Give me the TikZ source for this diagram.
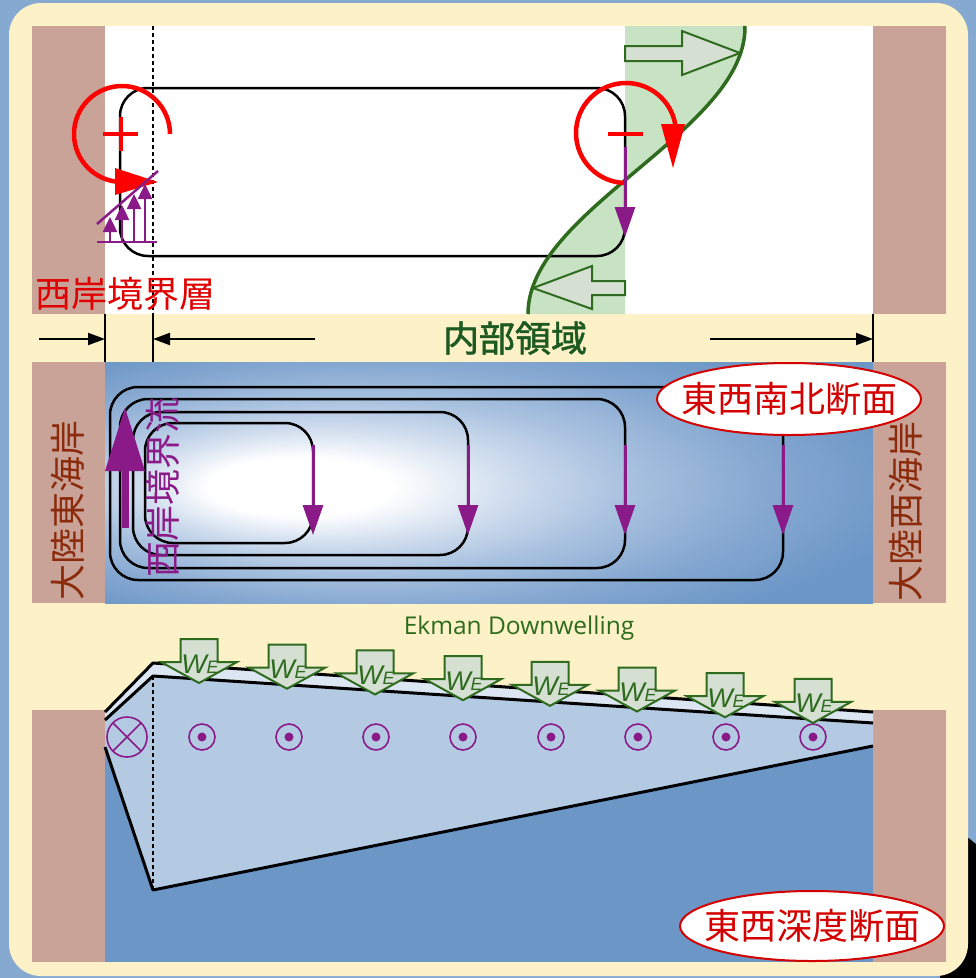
\documentclass[tikz,border=0pt]{standalone}
\usepackage{fontspec}
\usetikzlibrary{arrows.meta}
\newfontfamily\cjk{Noto Sans CJK JP}
\newfontfamily\cjkbold[FakeBold=1.5]{Noto Sans CJK JP}
\newfontfamily\latinsans{Open Sans}
\newfontfamily\wefont{Liberation Sans}

\definecolor{frameblue}{HTML}{86A9D1}
\definecolor{cream}{HTML}{FCF1C7}
\definecolor{coast}{HTML}{C9A398}
\definecolor{vred}{HTML}{FF0000}
\definecolor{labelred}{HTML}{E00000}
\definecolor{ovalred}{HTML}{D40000}
\definecolor{flowpurple}{HTML}{8B1A89}
\definecolor{shearfill}{HTML}{C8E3C3}
\definecolor{arrowfill}{HTML}{D5E0D3}
\definecolor{darkgreen}{HTML}{2E6B1E}
\definecolor{regiongreen}{HTML}{1D5A22}
\definecolor{landtext}{HTML}{8B2B0B}
\definecolor{deepblue}{HTML}{6B96C6}
\definecolor{layerblue}{HTML}{B3CAE2}
\definecolor{ekmanblue}{HTML}{DCE6F2}
\definecolor{basinlight}{HTML}{D0DDEE}
\definecolor{basinmid}{HTML}{A8C1DF}
\definecolor{basindark}{HTML}{86A8D1}

% off-centre radial gradient for the basin plan view
\pgfdeclareradialshading{basin}{\pgfpoint{-14bp}{-1bp}}{%
  color(0bp)=(white); color(6bp)=(white); color(12bp)=(basinlight);
  color(18bp)=(basinmid); color(25bp)=(basindark); color(33bp)=(deepblue);
  color(50bp)=(deepblue)}

\begin{document}
\begin{tikzpicture}[x=1pt,y=-1pt,line join=round,
  dimarrow/.style={line width=2pt,-{Triangle[length=17pt,width=12pt]}},
  loop/.style={draw=black,line width=2.5pt,rounded corners=28pt},
  southflow/.style={draw=flowpurple,line width=3pt,-{Triangle[length=30pt,width=20pt]}},
  profarrow/.style={flowpurple,line width=2.5pt,-{Triangle[length=15pt,width=14pt]}},
  vortex/.style={vred,line width=4.5pt},
  greenarrow/.style={draw=darkgreen,fill=arrowfill,line width=2pt,line join=miter},
  cjklabel/.style={font=\cjk\fontsize{36}{40}\selectfont,inner sep=0pt},
  oval/.style={draw=ovalred,fill=white,line width=2pt},
  bound/.style={line width=3pt,draw=black},
  marker/.style={draw=flowpurple,line width=1.6pt}]

\useasboundingbox (0,0) rectangle (976,978);

% frame
\fill[frameblue] (0,0) rectangle (976,978);
\fill[black] (966,836) -- (976,844) -- (976,978) -- (940,978) -- cycle;
\fill[cream,rounded corners=32pt] (9,3) rectangle (968,976);

% ---------- upper panel: boundary layer and interior ----------
\fill[white] (32,26) rectangle (946,314);
\fill[coast] (32,26) rectangle (105,314);
\fill[coast] (873,26) rectangle (946,314);

% shear profile: x = 636.5 + 108.5 cos(pi (y-27)/287)
\fill[shearfill] (625,26) -- plot[domain=26:314,samples=80,variable=\t]
  ({636.5+108.5*cos((\t-27)*0.627178)},\t) -- (625,314) -- cycle;

\draw[loop] (120,88) rectangle (625,256);
\draw[line width=2pt,dash pattern=on 4pt off 3pt] (153,26) -- (153,314);

\draw[darkgreen,line width=3.5pt] plot[domain=26:314,samples=80,variable=\t]
  ({636.5+108.5*cos((\t-27)*0.627178)},\t);
\draw[greenarrow] (625,46) -- (682,46) -- (682,31) -- (740,53) -- (682,75) -- (682,61) -- (625,61) -- cycle;
\draw[greenarrow] (625,281) -- (592,281) -- (592,266) -- (533,288) -- (592,309) -- (592,295) -- (625,295) -- cycle;

% positive vorticity in the western boundary layer
\draw[vortex] ([shift={(0:48)}]122,134) arc[start angle=0,end angle=-270,radius=48];
\fill[vred] (115,168) -- (158,182) -- (115,195) -- cycle;
\draw[vred,line width=4pt] (103,134) -- (138,134) (121,117) -- (121,151);

% negative vorticity in the interior
\draw[vortex] ([shift={(90:50)}]626,133) arc[start angle=90,end angle=350,radius=50];
\fill[vred] (661,124) -- (685,124) -- (673,168) -- cycle;
\draw[vred,line width=4pt] (608,134) -- (643,134);

\draw[southflow] (625,147) -- (625,237);

% velocity profile across the boundary layer
\draw[flowpurple,line width=2.5pt] (97,242) -- (157,242);
\draw[flowpurple,line width=2.5pt] (97,224) -- (158,171);
\foreach \x/\y in {110/217,122/205,134/194,145/184}
  \draw[profarrow] (\x,242) -- (\x,\y);

\node[cjklabel,text=labelred] (wbl) at (125,294) {西岸境界層};

% ---------- widths of the regions ----------
\coordinate (westcoast) at (105,339);
\coordinate (layeredge) at (153,339);
\coordinate (eastcoast) at (873,339);
\coordinate (leftstart) at (39,339);
\coordinate (midstart) at (315,339);
\coordinate (rightstart) at (710,339);
\draw[line width=2pt] (105,314) -- (105,362) (153,314) -- (153,362) (873,314) -- (873,362);
\draw[dimarrow] (leftstart) -- (westcoast);
\draw[dimarrow] (midstart) -- (layeredge);
\draw[dimarrow] (rightstart) -- (eastcoast);
\node[font=\cjkbold\fontsize{36}{40}\selectfont,inner sep=0pt,text=regiongreen] (interior) at (515,338) {内部領域};

% ---------- middle panel: plan view of the gyre ----------
\shade[shading=basin] (105,362) rectangle (873,603);
\fill[coast] (32,362) rectangle (105,603);
\fill[coast] (873,362) rectangle (946,603);

\draw[loop] (110,387) rectangle (783,580);
\draw[loop] (120,399) rectangle (625,568);
\draw[loop] (133,412) rectangle (468,555);
\draw[loop] (145,423) rectangle (313,543);
\foreach \x in {313,468,625,783}
  \draw[southflow] (\x,445) -- (\x,535);
\draw[flowpurple,line width=7pt,-{Triangle[length=64pt,width=38pt]}] (125,528) -- (125,407);

\node[cjklabel,rotate=90,text=flowpurple] (wbc) at (163,487) {西岸境界流};
\node[cjklabel,rotate=90,text=landtext] (eastshore) at (68,510) {大陸東海岸};
\node[cjklabel,rotate=90,text=landtext] (westshore) at (906,511) {大陸西海岸};

\draw[oval] (789,399) ellipse[x radius=132,y radius=36];
\node[cjklabel,text=ovalred] (planlabel) at (789,399) {東西南北断面};

% ---------- lower panel: zonal depth section ----------
\node[font=\latinsans\fontsize{24.5}{28}\selectfont,text=darkgreen,anchor=base] (ekman) at (519,634) {Ekman Downwelling};

\fill[deepblue] (105,712) rectangle (873,962);
\fill[coast] (32,710) rectangle (105,962);
\fill[coast] (873,710) rectangle (946,962);

\fill[layerblue] (105,720) -- (153,676) -- (873,723) -- (873,746) -- (153,890) -- (105,747) -- cycle;
\fill[ekmanblue] (105,712) -- (153,663) -- (873,712) -- (873,723) -- (153,676) -- (105,720) -- cycle;
\draw[bound] (105,712) -- (153,663) -- (873,712);
\draw[bound] (105,720) -- (153,676) -- (873,723);
\draw[bound] (105,747) -- (153,890) -- (873,746);
\draw[line width=2.5pt,dash pattern=on 4pt off 3pt] (153,676) -- (153,890);

% flow into and out of the section
\draw[marker] (127,737) circle[radius=20];
\draw[marker] (113,723) -- (141,751) (141,723) -- (113,751);
\foreach \x in {202,289,376,463,551,638,726,813} {
  \draw[marker] (\x,737) circle[radius=13];
  \fill[flowpurple] (\x,737) circle[radius=4.5];
}

% Ekman pumping arrows
\foreach \x in {199,287,375,463,550,637,725,813} {
  \pgfmathsetmacro\t{639+(\x-199)*0.0651}
  \draw[greenarrow] (\x-18.5,\t) -- (\x+18.5,\t) -- (\x+18.5,\t+23) -- (\x+38,\t+23)
    -- (\x,\t+44) -- (\x-38,\t+23) -- (\x-18.5,\t+23) -- cycle;
  \node[anchor=base,inner sep=0pt,text=darkgreen,font=\wefont\itshape\fontsize{27}{30}\selectfont]
    at (\x+1,\t+34) {W{\fontsize{18}{20}\selectfont E}};
}

\draw[oval] (812,926) ellipse[x radius=132,y radius=35];
\node[cjklabel,text=ovalred] (depthlabel) at (812,926) {東西深度断面};

\end{tikzpicture}
\end{document}
